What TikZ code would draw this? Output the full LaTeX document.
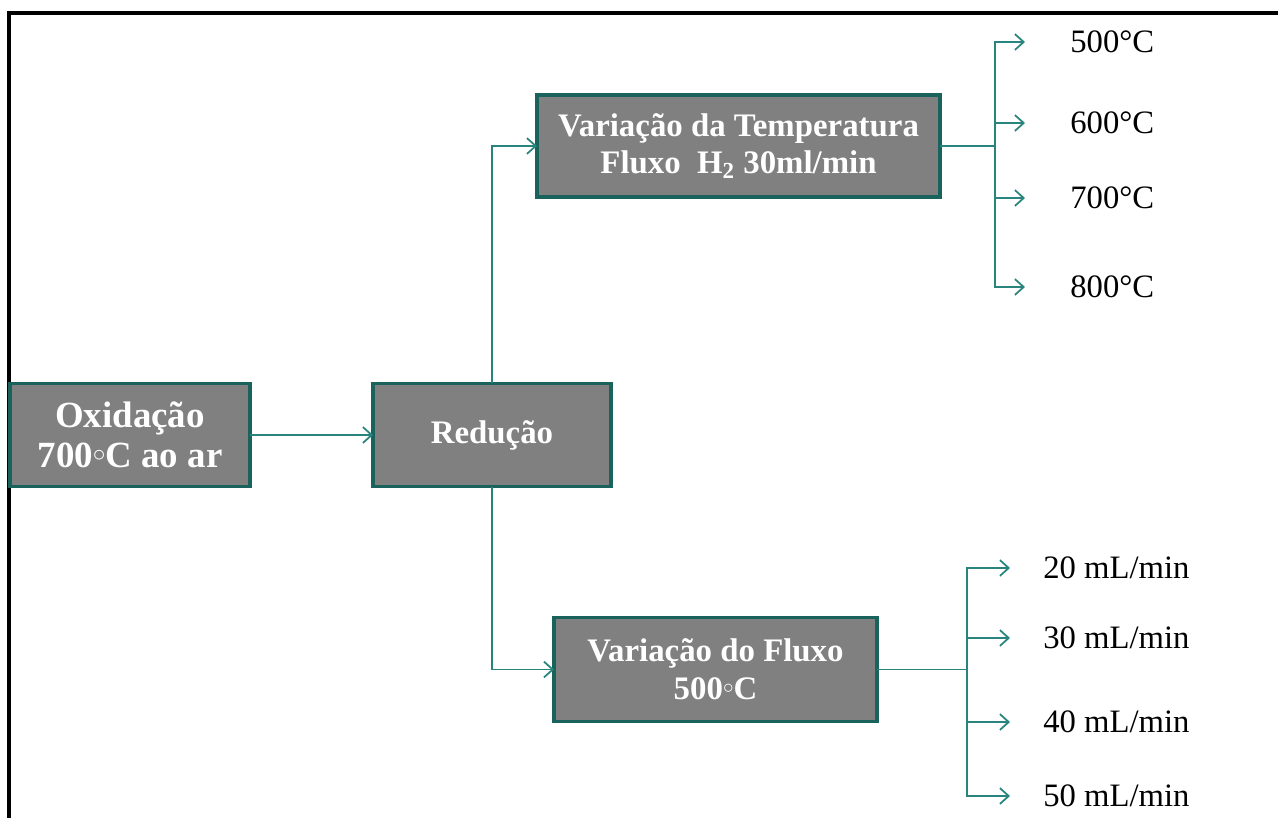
\documentclass[tikz,border=0pt]{standalone}
\usepackage{fontspec}
\setmainfont{Liberation Serif}
\usetikzlibrary{arrows.meta, calc, positioning}
\definecolor{boxfill}{RGB}{128,128,128}
\definecolor{boxdraw}{RGB}{26,98,92}
\definecolor{linkcolor}{RGB}{42,132,126}
\def\boxlinewidth{1.8pt}
\def\linklinewidth{1pt}
\def\boxheight{2.07cm}
\def\tempgap{0.9cm}
\def\flowgap{0.66cm}
\newcommand{\smalldeg}{\raisebox{0.4ex}{$\scriptstyle\circ$}}
\tikzset{
	% text in the boxes
	boxtext/.style={
		font=\fontsize{18.7}{21.5}\selectfont\bfseries,
		text=white,
		align=center,
	},
	% process steps
	stepbox/.style={
		shape=rectangle,
		draw=boxdraw,
		line width=\boxlinewidth,
		fill=boxfill,
		minimum height=\boxheight,
		boxtext,
		inner sep=0pt,
		outer sep=0pt,
	},
	% values at the end of the branches
	leaf/.style={
		font=\fontsize{18.6}{21}\selectfont,
		anchor=west,
		inner sep=0pt,
	},
	% connections
	link/.style={
		draw=linkcolor,
		line width=\linklinewidth,
	},
	connection/.style={
		link,
		-{Straight Barb[length=5pt,width=9pt]},
	},
	% slide frame
	frame/.style={
		line width=1.8pt,
		black,
	}
}
\begin{document}
\begin{tikzpicture}[x=0.02cm, y=-0.02cm]
		\useasboundingbox (0,0) rectangle (1278,818);
		\draw [frame] (9,818) |- (1278,13);

		% Steps
		\node[
			stepbox,
			minimum width=4.8cm,
			font=\fontsize{21}{23}\selectfont\bfseries,
		] (oxidacao) at (130,435) {Oxidação\\700\smalldeg C ao ar};
		%
		\node[
			stepbox,
			minimum width=4.76cm,
		] (reducao) at (492,435) {Redução};
		%
		\node[
			stepbox,
			minimum width=8.06cm,
			minimum height=2.04cm,
		] (temperatura) at (738.5,146)
		  {Variação da Temperatura\\Fluxo\ \ H\textsubscript{2} 30ml/min};
		%
		\node[
			stepbox,
			minimum width=6.46cm,
		] (fluxo) at (715.5,669.5) {Variação do Fluxo\\500\smalldeg C};

		% Branch points
		\coordinate (tempbranch) at (995,146);
		\coordinate (flowbranch) at (967,669.5);

		% Values
		\foreach \temp/\ypos in {500/42, 600/123, 700/198, 800/287} {
			\node[
				leaf,
			] (temp\temp) at (1070,\ypos) {\temp°C};
		}
		\foreach \flow/\ypos in {20/568, 30/638, 40/722, 50/796} {
			\node[
				leaf,
			] (flow\flow) at (1043,\ypos) {\flow\ mL/min};
		}

		% Connections
		%% Oxidation -> Reduction
		\draw [
			connection
		] (oxidacao) -- (reducao);
		%% Reduction -> both variations
		\draw [
			connection
		] (reducao.north) |- (temperatura.west);
		\draw [
			connection
		] (reducao.south) |- (fluxo.west);
		%% Temperature -> values
		\draw [
			link
		] (temperatura.east) -- (tempbranch);
		\foreach \temp in {500,600,700,800} {
			\draw [
				connection,
				shorten >=\tempgap
			] (tempbranch) |- (temp\temp);
		}
		%% Flow -> values
		\draw [
			link
		] (fluxo.east) -- (flowbranch);
		\foreach \flow in {20,30,40,50} {
			\draw [
				connection,
				shorten >=\flowgap
			] (flowbranch) |- (flow\flow);
		}
	\end{tikzpicture}
\end{document}
